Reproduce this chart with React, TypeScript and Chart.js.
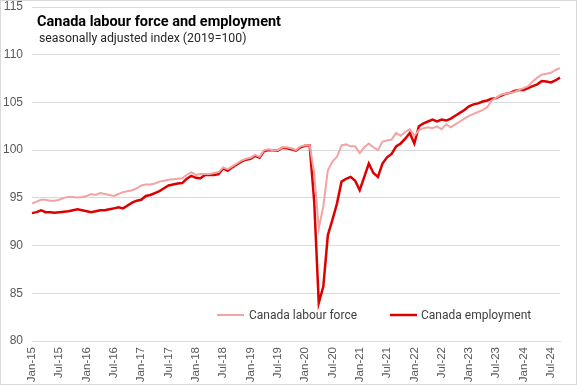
import React, { useEffect, useRef } from "react";
import { Chart, registerables } from "chart.js";

Chart.register(...registerables);

const MONTH_NAMES = ["Jan", "Feb", "Mar", "Apr", "May", "Jun", "Jul", "Aug", "Sep", "Oct", "Nov", "Dec"];
const FIRST_YEAR = 2015;
const MONTH_COUNT = 117; // Jan-15 .. Sep-24

const categories: string[] = Array.from({ length: MONTH_COUNT }, (_, i) => {
  const m = i % 12;
  const y = FIRST_YEAR + Math.floor(i / 12);
  return `${MONTH_NAMES[m]}-${String(y).slice(2)}`;
});

const labourForce: number[] = [
  94.4, 94.6, 94.8, 94.8, 94.7, 94.7, 94.8, 95.0, 95.1, 95.1, 95.05, 95.1,
  95.2, 95.4, 95.3, 95.5, 95.4, 95.3, 95.2, 95.4, 95.6, 95.7, 95.8, 96.0,
  96.3, 96.4, 96.4, 96.5, 96.7, 96.8, 96.9, 96.95, 97.0, 97.05, 97.4, 97.7,
  97.4, 97.5, 97.5, 97.5, 97.6, 97.7, 98.2, 98.0, 98.3, 98.6, 98.9, 99.1,
  99.2, 99.5, 99.3, 100.0, 100.1, 100.0, 100.0, 100.3, 100.3, 100.2, 100.0, 100.4,
  100.5, 100.5, 97.6, 91.8, 94.1, 97.9, 98.8, 99.3, 100.5, 100.6, 100.4, 100.4,
  99.7, 100.3, 100.7, 100.3, 100.0, 100.9, 101.0, 101.1, 101.8, 101.5, 101.9, 102.2,
  101.5, 102.1, 102.3, 102.4, 102.3, 102.5, 102.2, 102.7, 102.4, 102.7, 103.0, 103.3,
  103.6, 103.8, 104.0, 104.2, 104.5, 105.2, 105.5, 105.8, 105.9, 106.0, 106.1, 106.3,
  106.5, 106.7, 107.2, 107.6, 107.9, 108.0, 108.1, 108.4, 108.6,
];

const employment: number[] = [
  93.4, 93.5, 93.7, 93.5, 93.5, 93.45, 93.5, 93.55, 93.6, 93.7, 93.8, 93.7,
  93.6, 93.5, 93.6, 93.7, 93.7, 93.8, 93.9, 94.0, 93.9, 94.2, 94.5, 94.7,
  94.8, 95.2, 95.3, 95.5, 95.7, 96.0, 96.3, 96.4, 96.5, 96.55, 97.0, 97.3,
  97.1, 97.05, 97.4, 97.4, 97.4, 97.5, 98.1, 97.85, 98.2, 98.5, 98.8, 99.0,
  99.1, 99.4, 99.2, 99.9, 100.0, 100.0, 99.95, 100.25, 100.2, 100.1, 99.95, 100.3,
  100.45, 100.5, 94.6, 84.0, 85.7, 91.1, 92.7, 94.4, 96.7, 97.0, 97.2, 96.8,
  95.8, 97.2, 98.6, 97.6, 97.2, 98.6, 99.25, 99.6, 100.4, 100.7, 101.2, 101.8,
  100.7, 102.5, 102.8, 103.0, 103.2, 103.0, 103.2, 103.1, 103.3, 103.6, 103.9, 104.2,
  104.6, 104.8, 104.9, 105.1, 105.2, 105.4, 105.45, 105.7, 105.9, 106.0, 106.2, 106.3,
  106.3, 106.5, 106.7, 106.9, 107.25, 107.2, 107.1, 107.3, 107.6,
];

const Y_MIN = 80;
const Y_MAX = 115;
const Y_STEP = 5;
const LABEL_EVERY = 6;

const TITLE = "Canada labour force and employment";
const SUBTITLE = "seasonally adjusted index (2019=100)";
const SERIES_NAMES = ["Canada labour force", "Canada employment"];
const COLORS = ["#F4A3A3", "#DD0000"];
const WIDTHS = [2, 2.5];

const overlayPlugin = {
  id: "overlay",
  afterDraw(chart: any) {
    const ctx = chart.ctx as CanvasRenderingContext2D;
    ctx.save();
    ctx.textBaseline = "alphabetic";
    ctx.textAlign = "left";
    ctx.fillStyle = "#000000";
    ctx.font = "bold 14.5px Roboto";
    ctx.fillText(TITLE, 37, 25.5);
    ctx.fillStyle = "#262626";
    ctx.font = "12.3px Roboto";
    ctx.fillText(SUBTITLE, 39, 42);

    // legend
    const ly = 315;
    const items = [
      { x: 217, tx: 249 },
      { x: 390, tx: 421 },
    ];
    ctx.font = "12px Roboto";
    ctx.textBaseline = "middle";
    items.forEach((it, i) => {
      ctx.strokeStyle = COLORS[i];
      ctx.lineWidth = WIDTHS[i];
      ctx.beginPath();
      ctx.moveTo(it.x, ly);
      ctx.lineTo(it.x + 27, ly);
      ctx.stroke();
      ctx.fillStyle = "#404040";
      ctx.fillText(SERIES_NAMES[i], it.tx, ly + 0.5);
    });

    ctx.strokeStyle = "#D9D9D9";
    ctx.lineWidth = 1;
    ctx.strokeRect(0.5, 0.5, 576, 384);
    ctx.restore();
  },
};

export default function App() {
  const canvasRef = useRef<HTMLCanvasElement | null>(null);

  useEffect(() => {
    if (!canvasRef.current) return;
    const chart = new Chart(canvasRef.current, {
      type: "line",
      data: {
        labels: categories,
        datasets: [
          {
            label: SERIES_NAMES[0],
            data: labourForce,
            borderColor: COLORS[0],
            backgroundColor: COLORS[0],
            borderWidth: WIDTHS[0],
            pointRadius: 0,
            tension: 0,
          },
          {
            label: SERIES_NAMES[1],
            data: employment,
            borderColor: COLORS[1],
            backgroundColor: COLORS[1],
            borderWidth: WIDTHS[1],
            pointRadius: 0,
            tension: 0,
          },
        ],
      },
      options: {
        responsive: false,
        animation: false,
        layout: { padding: { top: 7, right: 17, left: 0, bottom: 0 } },
        plugins: {
          legend: { display: false },
          title: { display: false },
          tooltip: { enabled: false },
        },
        scales: {
          x: {
            type: "category",
            offset: false,
            grid: { display: false, drawTicks: false },
            border: { display: true, color: "#D9D9D9", width: 1 },
            ticks: {
              autoSkip: false,
              maxRotation: 90,
              minRotation: 90,
              padding: 6,
              color: "#595959",
              font: { family: "Liberation Sans", size: 11.5 },
              callback: (_v: any, idx: number) => (idx % LABEL_EVERY === 0 ? categories[idx] : ""),
            },
            afterFit: (scale: any) => {
              scale.height = 44;
              scale.paddingLeft = 0;
              scale.paddingRight = 0;
              scale.paddingTop = 0;
              scale.paddingBottom = 0;
            },
          },
          y: {
            min: Y_MIN,
            max: Y_MAX,
            grid: { color: "#D9D9D9", lineWidth: 1, drawTicks: false },
            border: { display: false },
            ticks: {
              stepSize: Y_STEP,
              padding: 9,
              color: "#595959",
              font: { family: "Liberation Sans", size: 12 },
            },
            afterFit: (scale: any) => {
              scale.width = 32;
              scale.paddingTop = 0;
              scale.paddingBottom = 0;
              scale.paddingLeft = 0;
              scale.paddingRight = 0;
            },
          },
        },
      },
      plugins: [overlayPlugin],
    } as any);
    return () => chart.destroy();
  }, []);

  return (
    <div style={{ position: "absolute", left: 0, top: 0, width: 577, height: 385, background: "#ffffff" }}>
      <canvas ref={canvasRef} width={577} height={385} style={{ display: "block" }} />
    </div>
  );
}
